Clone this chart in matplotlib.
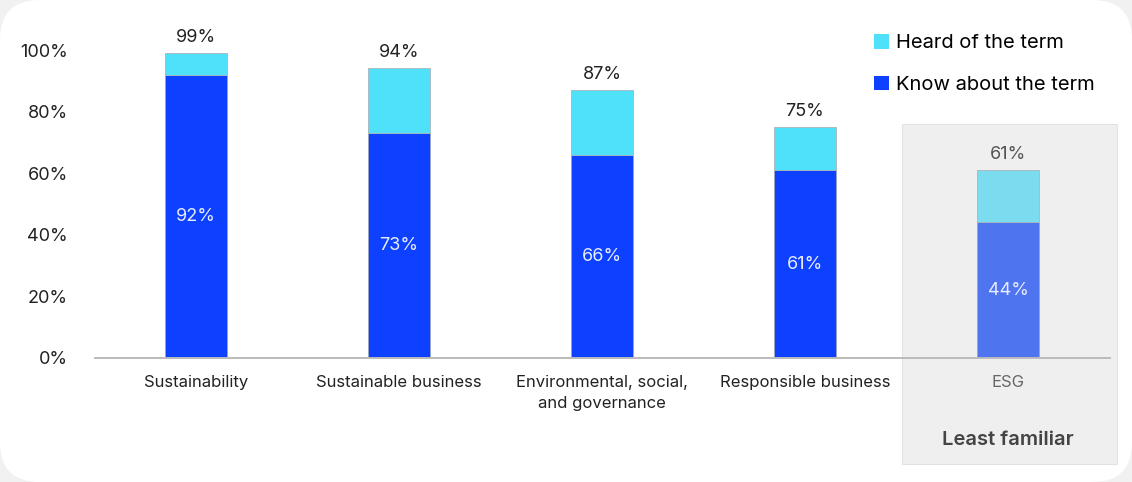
import matplotlib.pyplot as plt
from matplotlib.patches import FancyBboxPatch, Rectangle

categories = ['Sustainability', 'Sustainable business', 'Environmental, social,\nand governance',
              'Responsible business', 'ESG']
know = [92, 73, 66, 61, 44]
total = [99, 94, 87, 75, 61]
heard = [t - k for t, k in zip(total, know)]
yticks = [0, 20, 40, 60, 80, 100]

plt.rcParams['font.family'] = ['Inter', 'DejaVu Sans']

fig = plt.figure(figsize=(11.32, 4.82), dpi=100, facecolor='#f1f1f1')
# rounded white card
card = FancyBboxPatch((0.0, 0.0), 1.0, 1.0, boxstyle='round,pad=0,rounding_size=0.035',
                      transform=fig.transFigure, facecolor='white', edgecolor='none',
                      mutation_aspect=1132 / 482, zorder=-10)
fig.patches.append(card)
# grey highlight panel behind ESG
panel = Rectangle((902 / 1132, 1 - 464 / 482), 215 / 1132, 340 / 482, transform=fig.transFigure,
                  facecolor='#efefef', edgecolor='#e2e2e2', linewidth=0.8, zorder=-5)
fig.patches.append(panel)

ax = fig.add_axes([94.5 / 1132, 1 - 358 / 482, 1015 / 1132, 308 / 482])
ax.set_facecolor('none')

x = list(range(len(categories)))
know_cols = ['#0d41ff'] * 4 + ['#4f74f0']
heard_cols = ['#4fe0fa'] * 4 + ['#7adcee']
ax.bar(x, know, width=0.31, color=know_cols, edgecolor='#9aa4c0', linewidth=0.6,
       label='Know about the term', zorder=3)
ax.bar(x, heard, bottom=know, width=0.31, color=heard_cols, edgecolor='#a9b4bb', linewidth=0.6,
       label='Heard of the term', zorder=3)

for i in x:
    col = '#555555' if i == 4 else '#222222'
    ax.text(i, total[i] + 2.3, f'{total[i]}%', ha='center', va='bottom', fontsize=13, color=col)
    ax.text(i, know[i] / 2, f'{know[i]}%', ha='center', va='center', fontsize=13,
            color='#e8ecff')

ax.set_xlim(-0.5, 4.5)
ax.set_ylim(0, 100)
ax.set_yticks(yticks)
ax.set_yticklabels([f'{v}%' for v in yticks], fontsize=13, color='#222222')
ax.set_xticks(x)
ax.set_xticklabels(categories, fontsize=12, color='#222222', va='top', linespacing=1.5)
ax.get_xticklabels()[-1].set_color('#666666')
ax.tick_params(axis='y', length=0, pad=19)
ax.tick_params(axis='x', length=0, pad=12)
for s in ['top', 'right', 'left']:
    ax.spines[s].set_visible(False)
ax.spines['bottom'].set_color('#bbbbbb')
ax.spines['bottom'].set_linewidth(1.4)
ax.spines['bottom'].set_zorder(4)

fig.text(1008 / 1132, 1 - 440 / 482, 'Least familiar', ha='center', va='center',
         fontsize=14.5, fontweight='semibold', color='#444444')

handles, labels = ax.get_legend_handles_labels()
leg = ax.legend(handles[::-1], labels[::-1], loc='upper left',
                bbox_to_anchor=(864 / 1132, 1 - 24 / 482), bbox_transform=fig.transFigure,
                frameon=False, fontsize=14.5, handlelength=0.75, handleheight=0.75,
                handletextpad=0.35, labelspacing=1.15, borderpad=0)
for h in leg.legend_handles:
    h.set_edgecolor('none')

fig.savefig('out.png', dpi=100, facecolor=fig.get_facecolor())
